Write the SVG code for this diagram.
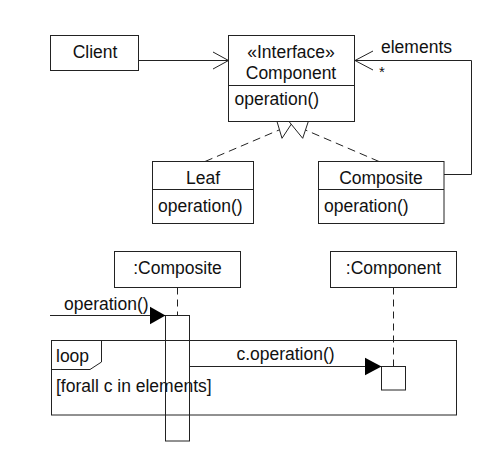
<svg xmlns="http://www.w3.org/2000/svg" width="483" height="455" viewBox="0 0 483 455">
  <style>
    .box { fill: #fff; stroke: #222; stroke-width: 1; }
    .frame { fill: none; stroke: #222; stroke-width: 1; }
    .line { fill: none; stroke: #222; stroke-width: 1; }
    .dash { fill: none; stroke: #222; stroke-width: 1; stroke-dasharray: 8 5; }
    .life { fill: none; stroke: #222; stroke-width: 1; stroke-dasharray: 7 5; }
    .head { fill: #000; stroke: none; }
    text { font-family: "Liberation Sans", Arial, sans-serif; font-size: 17.5px; fill: #111; }
    .c { text-anchor: middle; }
  </style>
  <rect width="483" height="455" fill="#fff"/>

  <!-- class diagram connectors -->
  <g id="class-connectors">
    <!-- Client -> Component association -->
    <path class="line" d="M138.5 60.5 H228.5"/>
    <path class="line" d="M213 52 L228.5 60.5 L213 69"/>
    <!-- elements * self association from Composite -->
    <path class="line" d="M444 174.5 H471.5 V60.5 H354.5"/>
    <path class="line" d="M373 51 L355 60.5 L373 70"/>
    <text x="381" y="53">elements</text>
    <text x="379" y="77" style="font-size:15px">*</text>
    <!-- realizations -->
    <path class="dash" d="M205 161.5 L279 130"/>
    <path class="dash" d="M379 161.5 L305.5 130"/>
    <polygon class="box" points="277,121.5 282,138.3 293,121.5"/>
    <polygon class="box" points="289,121.5 302.7,138.3 308.3,121.5"/>
  </g>

  <g id="client">
    <rect class="box" x="50.5" y="35.5" width="88" height="35"/>
    <text class="c" x="95" y="58">Client</text>
  </g>

  <g id="component">
    <rect class="frame" x="228.5" y="35.5" width="126" height="86"/>
    <path class="line" d="M228.5 85.5 H354.5"/>
    <text class="c" x="291" y="58">«Interface»</text>
    <text class="c" x="291" y="78.5">Component</text>
    <text x="234.5" y="104.5">operation()</text>
  </g>

  <g id="leaf">
    <rect class="box" x="152.5" y="161.5" width="101" height="62"/>
    <path class="line" d="M152.5 189.5 H253.5"/>
    <text class="c" x="203" y="184">Leaf</text>
    <text x="158" y="212">operation()</text>
  </g>

  <g id="composite">
    <rect class="box" x="318.5" y="161.5" width="125.5" height="62"/>
    <path class="line" d="M318.5 189.5 H444"/>
    <text class="c" x="381" y="184">Composite</text>
    <text x="324" y="212">operation()</text>
  </g>

  <!-- sequence diagram -->
  <g id="loop-frame">
    <rect class="frame" x="51.5" y="340.5" width="405" height="74.5"/>
    <path class="line" d="M101.5 340.5 V362 L90 369.5 H51.5"/>
    <text x="56" y="362">loop</text>
    <text x="56" y="392">[forall c in elements]</text>
  </g>

  <g id="composite-lifeline">
    <rect class="box" x="114.5" y="251.5" width="126" height="36"/>
    <text class="c" x="177.5" y="273.5">:Composite</text>
    <path class="life" d="M177.5 287.5 V315"/>
    <rect class="frame" x="165.5" y="315.5" width="24" height="125.5"/>
  </g>

  <g id="component-lifeline">
    <rect class="box" x="330.5" y="251.5" width="126" height="36"/>
    <text class="c" x="393.5" y="273.5">:Component</text>
    <path class="life" d="M393.5 287.5 V366"/>
    <rect class="box" x="381.5" y="366.5" width="24" height="23.5"/>
  </g>

  <g id="messages">
    <path class="line" d="M50 315.5 H165.5"/>
    <polygon class="head" points="165.5,315.5 150,306.8 150,324.2"/>
    <text x="64" y="310">operation()</text>
    <path class="line" d="M189.5 366.5 H381.5"/>
    <polygon class="head" points="381.5,366.5 365,357.8 365,375.2"/>
    <text class="c" x="285.5" y="359.5">c.operation()</text>
  </g>
</svg>
